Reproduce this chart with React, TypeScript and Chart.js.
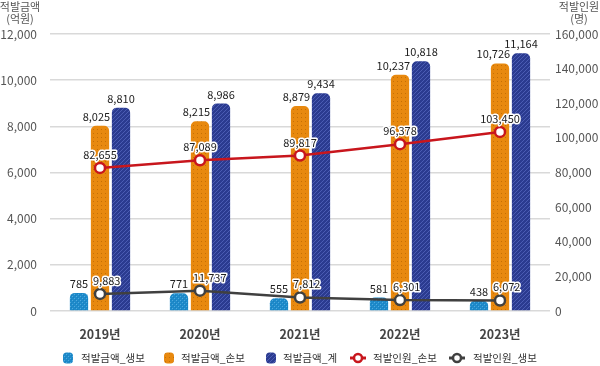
import React, { useEffect, useRef } from "react";
import { Chart, registerables } from "chart.js";

Chart.register(...registerables);

const categories = ["2019년", "2020년", "2021년", "2022년", "2023년"];
const amountLife = [785, 771, 555, 581, 438];
const amountNonLife = [8025, 8215, 8879, 10237, 10726];
const amountTotal = [8810, 8986, 9434, 10818, 11164];
const peopleNonLife = [82655, 87089, 89817, 96378, 103450];
const peopleLife = [9883, 11737, 7812, 6301, 6072];

const seriesNames = ["적발금액_생보", "적발금액_손보", "적발금액_계", "적발인원_손보", "적발인원_생보"];
const leftTitle = ["적발금액", "(억원)"];
const rightTitle = ["적발인원", "(명)"];

const FONT = "'Noto Sans CJK KR', 'Noto Sans', sans-serif";
const RED = "#c8161d";
const DARK = "#404040";

function makePattern(kind: string): CanvasPattern | string {
  const c = document.createElement("canvas");
  const s = 4;
  c.width = s;
  c.height = s;
  const g = c.getContext("2d");
  if (!g) return "#888";
  if (kind === "blue") {
    g.fillStyle = "#1e8bcb";
    g.fillRect(0, 0, s, s);
    g.fillStyle = "#4fa9de";
    g.fillRect(0, 0, 1, 1);
    g.fillRect(2, 2, 1, 1);
    g.fillStyle = "#1a7fbd";
    g.fillRect(1, 1, 1, 1);
    g.fillRect(3, 3, 1, 1);
  } else if (kind === "orange") {
    g.fillStyle = "#e8890f";
    g.fillRect(0, 0, s, s);
    g.fillStyle = "#c46f05";
    g.fillRect(1, 1, 1, 1);
  } else {
    g.fillStyle = "#2b3b90";
    g.fillRect(0, 0, s, s);
    g.fillStyle = "#4b5cb3";
    g.fillRect(3, 0, 1, 1);
    g.fillRect(2, 1, 1, 1);
    g.fillRect(1, 2, 1, 1);
    g.fillRect(0, 3, 1, 1);
  }
  const ctx = document.createElement("canvas").getContext("2d");
  return ctx ? (ctx.createPattern(c, "repeat") as CanvasPattern) : "#888";
}

function roundRect(ctx: CanvasRenderingContext2D, x: number, y: number, w: number, h: number, r: number) {
  ctx.beginPath();
  ctx.moveTo(x + r, y);
  ctx.lineTo(x + w - r, y);
  ctx.quadraticCurveTo(x + w, y, x + w, y + r);
  ctx.lineTo(x + w, y + h - r);
  ctx.quadraticCurveTo(x + w, y + h, x + w - r, y + h);
  ctx.lineTo(x + r, y + h);
  ctx.quadraticCurveTo(x, y + h, x, y + h - r);
  ctx.lineTo(x, y + r);
  ctx.quadraticCurveTo(x, y, x + r, y);
  ctx.closePath();
}

export default function App() {
  const ref = useRef<HTMLCanvasElement | null>(null);

  useEffect(() => {
    document.body.style.margin = "0";
    const canvas = ref.current;
    if (!canvas) return;
    const fills = [makePattern("blue"), makePattern("orange"), makePattern("navy")];

    const labelsPlugin = {
      id: "valueLabels",
      afterDatasetsDraw(chart: any) {
        const ctx = chart.ctx;
        ctx.save();
        ctx.font = `11px ${FONT}`;
        ctx.textBaseline = "alphabetic";
        chart.data.datasets.forEach((ds: any, i: number) => {
          const meta = chart.getDatasetMeta(i);
          meta.data.forEach((el: any, j: number) => {
            const txt = Number(ds.data[j]).toLocaleString("en-US");
            if (ds.type === "bar") {
              ctx.fillStyle = "#222";
              if (ds.label === seriesNames[1]) {
                ctx.textAlign = "right";
                ctx.fillText(txt, el.x + el.width / 2 + 1, el.y - 5);
              } else {
                ctx.textAlign = "center";
                ctx.fillText(txt, el.x, el.y - 5);
              }
            } else {
              let x = el.x;
              if (ds.label === seriesNames[4]) {
                ctx.textAlign = "left";
                x = el.x - 7;
              } else {
                ctx.textAlign = "center";
              }
              ctx.lineWidth = 3;
              ctx.strokeStyle = "#fff";
              ctx.lineJoin = "round";
              ctx.strokeText(txt, x, el.y - 9);
              ctx.fillStyle = "#222";
              ctx.fillText(txt, x, el.y - 9);
            }
          });
        });
        ctx.restore();
      },
      afterDraw(chart: any) {
        const ctx = chart.ctx;
        ctx.save();
        // axis titles
        ctx.font = `11px ${FONT}`;
        ctx.fillStyle = "#555";
        ctx.textAlign = "center";
        ctx.textBaseline = "middle";
        ctx.fillText(leftTitle[0], 20, 7);
        ctx.fillText(leftTitle[1], 20, 19);
        ctx.fillText(rightTitle[0], 579, 7);
        ctx.fillText(rightTitle[1], 579, 19);
        // legend
        const ly = 358;
        ctx.font = `10.5px ${FONT}`;
        ctx.textAlign = "left";
        const items = [
          { kind: "bar", fill: fills[0], ix: 63, tx: 81 },
          { kind: "bar", fill: fills[1], ix: 164, tx: 181 },
          { kind: "bar", fill: fills[2], ix: 266, tx: 283 },
          { kind: "line", color: RED, ix: 350, tx: 373 },
          { kind: "line", color: DARK, ix: 449, tx: 473 },
        ];
        items.forEach((it: any, k: number) => {
          if (it.kind === "bar") {
            roundRect(ctx, it.ix, ly - 5.5, 10, 11, 3.5);
            ctx.fillStyle = it.fill;
            ctx.fill();
          } else {
            ctx.strokeStyle = it.color;
            ctx.lineWidth = 3;
            ctx.beginPath();
            ctx.moveTo(it.ix, ly);
            ctx.lineTo(it.ix + 16, ly);
            ctx.stroke();
            ctx.beginPath();
            ctx.arc(it.ix + 8, ly, 4, 0, Math.PI * 2);
            ctx.fillStyle = "#fff";
            ctx.fill();
            ctx.lineWidth = 2.5;
            ctx.stroke();
          }
          ctx.fillStyle = "#333";
          ctx.fillText(seriesNames[k], it.tx, ly);
        });
        ctx.restore();
      },
    };

    const barRadius = { topLeft: 5, topRight: 5, bottomLeft: 0, bottomRight: 0 };
    const chart = new Chart(canvas, {
      type: "bar",
      data: {
        labels: categories,
        datasets: [
          {
            type: "line",
            label: seriesNames[3],
            data: peopleNonLife,
            yAxisID: "y1",
            borderColor: RED,
            borderWidth: 2.5,
            pointBackgroundColor: "#fff",
            pointBorderColor: RED,
            pointBorderWidth: 2.5,
            pointRadius: 5,
            order: 0,
          },
          {
            type: "line",
            label: seriesNames[4],
            data: peopleLife,
            yAxisID: "y1",
            borderColor: DARK,
            borderWidth: 2.5,
            pointBackgroundColor: "#fff",
            pointBorderColor: DARK,
            pointBorderWidth: 2.5,
            pointRadius: 5,
            order: 0,
          },
          {
            type: "bar",
            label: seriesNames[0],
            data: amountLife,
            yAxisID: "y",
            backgroundColor: fills[0] as any,
            borderRadius: barRadius,
            borderSkipped: false,
            categoryPercentage: 0.63,
            barPercentage: 0.87,
            order: 1,
          },
          {
            type: "bar",
            label: seriesNames[1],
            data: amountNonLife,
            yAxisID: "y",
            backgroundColor: fills[1] as any,
            borderRadius: barRadius,
            borderSkipped: false,
            categoryPercentage: 0.63,
            barPercentage: 0.87,
            order: 1,
          },
          {
            type: "bar",
            label: seriesNames[2],
            data: amountTotal,
            yAxisID: "y",
            backgroundColor: fills[2] as any,
            borderRadius: barRadius,
            borderSkipped: false,
            categoryPercentage: 0.63,
            barPercentage: 0.87,
            order: 1,
          },
        ] as any,
      },
      options: {
        animation: false,
        responsive: false,
        layout: { padding: { top: 34, bottom: 25, left: 0, right: 0 } },
        plugins: { legend: { display: false }, tooltip: { enabled: false } },
        scales: {
          x: {
            grid: { display: false },
            border: { display: false },
            ticks: { font: { family: FONT, size: 12.5, weight: "bold" }, color: "#444", padding: 8 },
            afterFit: (s: any) => { s.height = 30; },
          },
          y: {
            position: "left",
            min: 0,
            max: 12000,
            ticks: {
              stepSize: 2000,
              padding: 13,
              color: "#555",
              font: { family: FONT, size: 12 },
              callback: (v: any) => Number(v).toLocaleString("en-US"),
            },
            grid: { color: "#d9d9d9", lineWidth: 1.5, drawTicks: false },
            border: { display: false },
            afterFit: (s: any) => { s.width = 50; },
          },
          y1: {
            position: "right",
            min: 0,
            max: 160000,
            ticks: {
              stepSize: 20000,
              padding: 5,
              color: "#555",
              font: { family: FONT, size: 12 },
              callback: (v: any) => Number(v).toLocaleString("en-US"),
            },
            grid: { display: false, drawTicks: false },
            border: { display: false },
            afterFit: (s: any) => { s.width = 50; },
          },
        },
      } as any,
      plugins: [labelsPlugin],
    });
    return () => chart.destroy();
  }, []);

  return (
    <div style={{ width: 600, height: 366 }}>
      <canvas ref={ref} width={600} height={366} style={{ display: "block" }} />
    </div>
  );
}
